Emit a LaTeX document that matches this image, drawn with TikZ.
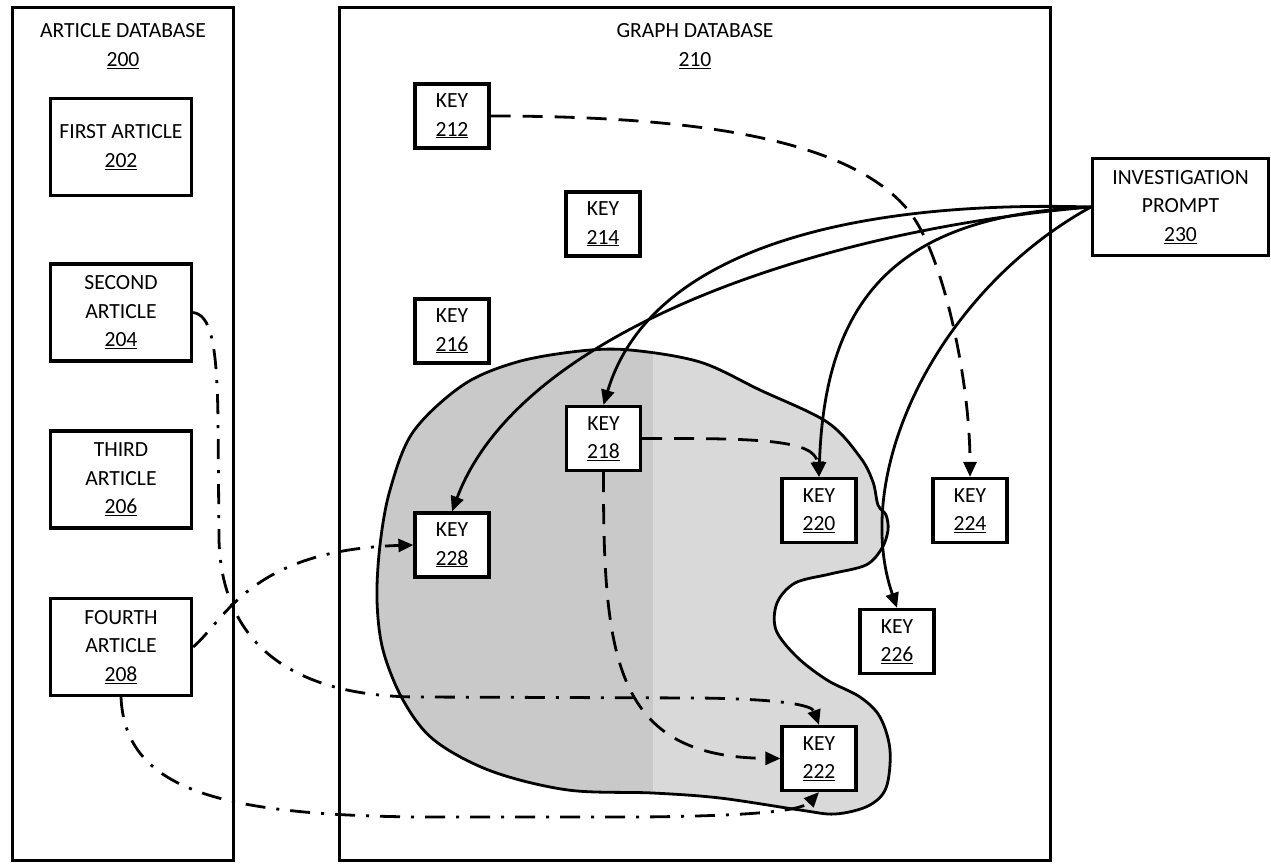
\documentclass[tikz,border=0pt]{standalone}
\usepackage{fontspec}
\setmainfont{Carlito}
\usetikzlibrary{arrows.meta}
\begin{document}
\begin{tikzpicture}[x=1pt,y=-1pt,
  every node/.style={font=\fontsize{21.6}{28.5}\selectfont, align=center, inner sep=0pt},
  dbbox/.style={draw, line width=3pt},
  artbox/.style={draw, line width=3.2pt, fill=white, minimum width=141pt, minimum height=97pt},
  keybox/.style={draw, line width=3.2pt, fill=white, minimum width=74pt, minimum height=64pt},
  link/.style={line width=2.8pt, -{Triangle[length=15pt,width=13pt]}},
  dashlink/.style={link, dash pattern=on 20pt off 12pt},
  dotlink/.style={link, dash pattern=on 20pt off 11pt on 3pt off 11pt},
  blobline/.style={line width=2.8pt},
]
\useasboundingbox (0,0) rectangle (1271,863);

% shaded cluster of related keys
\begin{scope}
  \clip plot[smooth cycle, tension=0.55] coordinates {
    (630,350) (700,362) (760,390) (827,422) (860,457) (873,482) (878,505)
    (886,515) (888,530) (882,548) (866,565) (830,574) (795,583) (777,603)
    (776,630) (797,657) (827,680) (860,697) (880,717) (890,750) (886,788)
    (868,806) (835,814) (800,810) (720,798) (653,793) (568,790) (491,771)
    (434,740) (403,700) (383,650) (377,600) (380,545) (390,490) (413,432)
    (463,385) (517,362) (580,351)};
  \fill[black!21] (360,330) rectangle (653,840);
  \fill[black!15] (653,330) rectangle (910,840);
\end{scope}
\draw[blobline] plot[smooth cycle, tension=0.55] coordinates {
    (630,350) (700,362) (760,390) (827,422) (860,457) (873,482) (878,505)
    (886,515) (888,530) (882,548) (866,565) (830,574) (795,583) (777,603)
    (776,630) (797,657) (827,680) (860,697) (880,717) (890,750) (886,788)
    (868,806) (835,814) (800,810) (720,798) (653,793) (568,790) (491,771)
    (434,740) (403,700) (383,650) (377,600) (380,545) (390,490) (413,432)
    (463,385) (517,362) (580,351)};

% databases
\node[dbbox, minimum width=221pt, minimum height=853pt] (artdb) at (123,434) {};
\node[dbbox, minimum width=711pt, minimum height=853pt] (graphdb) at (695,434) {};
\node (artdbtitle) at (123,46) {ARTICLE DATABASE\\\underline{200}};
\node (graphdbtitle) at (695,46) {GRAPH DATABASE\\\underline{210}};

% articles
\node[artbox] (a202) at (121,147) {FIRST ARTICLE\\\underline{202}};
\node[artbox] (a204) at (121,312.5) {SECOND\\ARTICLE\\\underline{204}};
\node[artbox] (a206) at (121,479.5) {THIRD\\ARTICLE\\\underline{206}};
\node[artbox] (a208) at (121,647) {FOURTH\\ARTICLE\\\underline{208}};

% keys
\node[keybox] (k212) at (452,116) {KEY\\\underline{212}};
\node[keybox] (k214) at (603,224) {KEY\\\underline{214}};
\node[keybox] (k216) at (452,331) {KEY\\\underline{216}};
\node[keybox] (k218) at (603.5,438.5) {KEY\\\underline{218}};
\node[keybox] (k220) at (819,510.5) {KEY\\\underline{220}};
\node[keybox] (k222) at (819,758.5) {KEY\\\underline{222}};
\node[keybox] (k224) at (970,510.5) {KEY\\\underline{224}};
\node[keybox] (k226) at (897,641.5) {KEY\\\underline{226}};
\node[keybox] (k228) at (452,545) {KEY\\\underline{228}};

% prompt
\node[draw, line width=3.2pt, fill=white, minimum width=176pt, minimum height=97pt]
  (prompt) at (1180.5,207) {INVESTIGATION\\PROMPT\\\underline{230}};

% key to key links
\draw[dashlink] (k212.east) .. controls (700,116) and (850,140) .. (908,210)
  .. controls (943,252) and (970,380) .. (k224.north);
\draw[dashlink] (k218.east) .. controls (760,438) and (815,440) .. (k220.north);
\draw[dashlink] (k218.south) .. controls (603,660) and (615,757) .. (k222.west);

% prompt links
\draw[link] (prompt.west) .. controls (850,200) and (650,250) .. (k218.north);
\draw[link] (prompt.west) .. controls (820,230) and (520,330) .. (k228.north);
\draw[link] (prompt.west) .. controls (900,215) and (825,295) .. (k220.north);
\draw[link] (prompt.west) .. controls (940,290) and (850,470) .. (k226.north);

% article links
\draw[dotlink] (a204.east) .. controls (210,315) and (217,340) .. (218,420)
  -- (219,540) .. controls (222,650) and (300,697) .. (420,697)
  -- (700,698) .. controls (780,699) and (812,705) .. (k222.north);
\draw[dotlink] (a208.east) .. controls (225,620) and (250,550) .. (k228.west);
\draw[dotlink] (a208.south) .. controls (125,790) and (220,815) .. (420,817)
  -- (640,817) .. controls (740,816) and (800,812) .. (k222.south);
\end{tikzpicture}
\end{document}
